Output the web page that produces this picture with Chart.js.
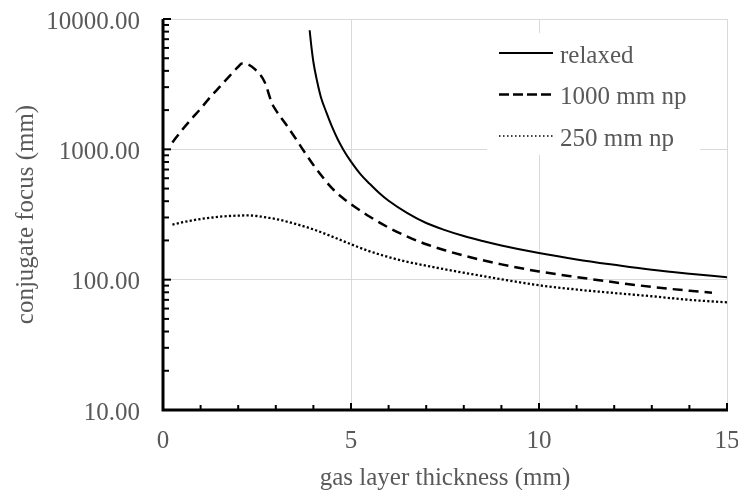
<!DOCTYPE html>
<html>
<head>
<meta charset="utf-8">
<script src="https://cdn.jsdelivr.net/npm/chart.js@4.4.1/dist/chart.umd.min.js"></script>
<style>
  html, body { margin: 0; padding: 0; background: #fff; overflow: hidden; }
  #wrap { width: 738px; height: 490px; }
</style>
</head>
<body>
<div id="wrap"><canvas id="chart"></canvas></div>
<script>
// Data
const relaxedX = [3.9, 3.95, 4.0, 4.1, 4.2, 4.35, 4.5, 4.65, 4.8, 5.0, 5.25, 5.5, 5.75, 6.0, 6.5, 7.0, 7.5, 8.0, 8.5, 9.0, 10, 11, 12, 13, 14, 15];
const relaxedY = [8200, 6026, 4677, 3311, 2512, 1905, 1479, 1189, 989, 804, 646, 543, 462, 403, 324, 272, 240, 216, 198, 183, 160, 143, 130, 119, 111, 104.5];

const np1000X = [0.25, 0.5, 0.75, 1.0, 1.25, 1.5, 1.75, 2.0, 2.1, 2.25, 2.45, 2.7, 2.9, 3.0, 3.25, 3.5, 3.75, 4.0, 4.25, 4.5, 4.75, 5.0, 5.5, 6.0, 6.5, 7.0, 7.5, 8.0, 8.5, 9.0, 10, 11, 12, 13, 14, 14.6];
const np1000Y = [1130, 1400, 1700, 2050, 2500, 3000, 3600, 4300, 4550, 4500, 4100, 3300, 2250, 2000, 1585, 1245, 966, 759, 610, 501, 431, 380, 304, 251, 214, 187, 168, 153, 141, 131, 115.6, 104.7, 95.5, 88, 82.2, 79.4];

const np250X = [0.25, 0.5, 0.75, 1.0, 1.25, 1.5, 1.75, 2.0, 2.25, 2.5, 2.75, 3.0, 3.5, 4.0, 4.5, 5.0, 5.5, 6.0, 6.5, 7.0, 7.5, 8.0, 9.0, 10, 11, 12, 13, 14, 15];
const np250Y = [265, 275, 284, 292, 298, 304, 308, 310, 311, 308, 300, 292, 269, 243, 214, 187, 165, 149, 137, 128, 120, 113, 100.7, 90.6, 84, 79, 74.6, 70, 67];

const seriesLabels = ['relaxed', '1000 mm np', '250 mm np'];
const xTicks = [0, 5, 10, 15];
const yTicks = [10, 100, 1000, 10000];
const xTitle = 'gas layer thickness (mm)';
const yTitle = 'conjugate focus (mm)';

const FONT = "25px 'Liberation Serif', 'Times New Roman', serif";
const TEXT = '#595959';
const GRID = '#d9d9d9';

function pts(xs, ys) { return xs.map((x, i) => ({ x: x, y: ys[i] })); }

const isDecade = v => Math.abs(Math.log10(v) - Math.round(Math.log10(v))) < 1e-9;

// Axes, inward ticks, labels, titles and the inset legend
const decor = {
  id: 'decor',
  afterDatasetsDraw(chart) {
    const c = chart.ctx;
    const xs = chart.scales.x, ys = chart.scales.y;
    const a = chart.chartArea;
    c.save();

    // y ticks (inward)
    c.strokeStyle = '#000';
    c.lineWidth = 2;
    for (let d = 10; d <= 10000; d *= 10) {
      const py = ys.getPixelForValue(d);
      c.beginPath(); c.moveTo(a.left, py); c.lineTo(a.left + 8, py); c.stroke();
      if (d < 10000) {
        for (let k = 2; k <= 9; k++) {
          const p = ys.getPixelForValue(k * d);
          c.beginPath(); c.moveTo(a.left, p); c.lineTo(a.left + 6, p); c.stroke();
        }
      }
    }
    // x ticks (inward)
    for (let v = 0; v <= 15; v++) {
      const px = xs.getPixelForValue(v);
      const len = v % 5 === 0 ? 7 : 5;
      c.beginPath(); c.moveTo(px, a.bottom); c.lineTo(px, a.bottom - len); c.stroke();
    }

    // axis lines
    c.lineWidth = 3;
    c.beginPath();
    c.moveTo(a.left, a.top);
    c.lineTo(a.left, a.bottom);
    c.lineTo(a.right + 1, a.bottom);
    c.stroke();

    // tick labels
    c.font = FONT;
    c.fillStyle = TEXT;
    c.textAlign = 'right';
    c.textBaseline = 'alphabetic';
    yTicks.forEach(v => c.fillText(v.toFixed(2), a.left - 23, ys.getPixelForValue(v) + 9.5));
    c.textAlign = 'center';
    xTicks.forEach(v => c.fillText(String(v), xs.getPixelForValue(v), 448));

    // axis titles
    c.fillText(xTitle, (a.left + a.right) / 2, 485);
    c.save();
    c.translate(33, (a.top + a.bottom) / 2);
    c.rotate(-Math.PI / 2);
    c.fillText(yTitle, 0, 0);
    c.restore();

    // legend
    c.fillStyle = '#fff';
    c.fillRect(487, 33, 213, 122);
    chart.data.datasets.forEach((ds, i) => {
      const y = 53 + i * 41.5;
      c.strokeStyle = ds.borderColor;
      c.lineWidth = ds.legendWidth || ds.borderWidth;
      c.setLineDash(ds.legendDash || []);
      c.beginPath(); c.moveTo(499, y); c.lineTo(553, y); c.stroke();
      c.setLineDash([]);
      c.fillStyle = TEXT;
      c.textAlign = 'left';
      c.fillText(ds.label, 560, y + 9.5);
    });
    c.restore();
  }
};

new Chart(document.getElementById('chart'), {
  type: 'line',
  data: {
    datasets: [
      { label: seriesLabels[0], data: pts(relaxedX, relaxedY), borderColor: '#000', borderWidth: 2, pointRadius: 0, cubicInterpolationMode: 'monotone', fill: false },
      { label: seriesLabels[1], data: pts(np1000X, np1000Y), borderColor: '#000', borderWidth: 2.5, borderDash: [10, 6], legendDash: [10, 4], pointRadius: 0, cubicInterpolationMode: 'monotone', fill: false },
      { label: seriesLabels[2], data: pts(np250X, np250Y), borderColor: '#000', borderWidth: 2.3, borderDash: [2.2, 2.2], legendDash: [1.5, 2.5], legendWidth: 1.6, pointRadius: 0, cubicInterpolationMode: 'monotone', fill: false }
    ]
  },
  options: {
    responsive: true,
    maintainAspectRatio: false,
    animation: false,
    events: [],
    layout: { padding: { left: 0, top: 19, right: 11, bottom: 0 } },
    plugins: { legend: { display: false }, tooltip: { enabled: false } },
    scales: {
      x: {
        type: 'linear',
        min: 0, max: 15,
        ticks: { display: false, stepSize: 5 },
        grid: { color: GRID, lineWidth: 1, drawTicks: false },
        border: { display: false },
        afterFit(s) { s.height = 80; }
      },
      y: {
        type: 'logarithmic',
        min: 10, max: 10000,
        ticks: { display: false },
        grid: {
          color: ctx => (ctx.tick && isDecade(ctx.tick.value)) ? GRID : 'rgba(0,0,0,0)',
          lineWidth: 1,
          drawTicks: false
        },
        border: { display: false },
        afterFit(s) { s.width = 163; }
      }
    }
  },
  plugins: [decor]
});
</script>
</body>
</html>
